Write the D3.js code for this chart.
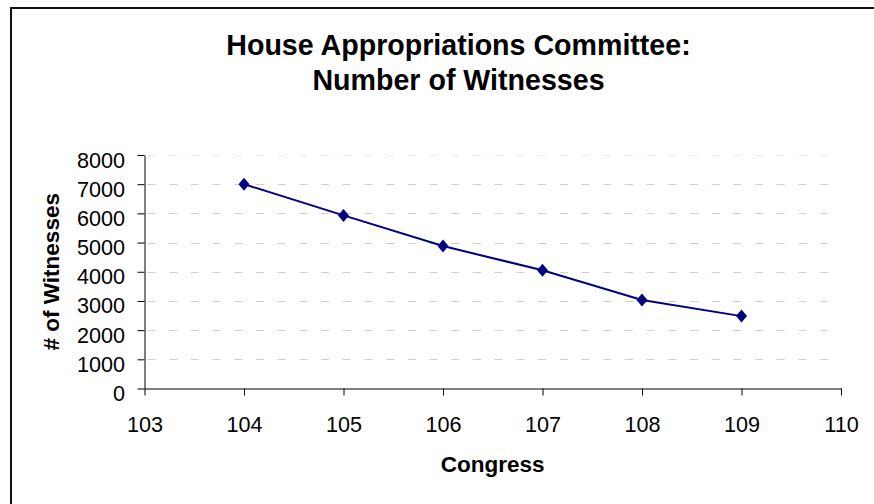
<html>
<head>
<script src="https://d3js.org/d3.v7.min.js"></script>
<style>
body { margin: 0; background: #fff; }
text { font-family: "Liberation Sans", Arial, sans-serif; fill: #000; }
</style>
</head>
<body>
<svg></svg>
<script>
var width = 874;
var height = 504;

// values
var congress = [104, 105, 106, 107, 108, 109];
var witnesses = [7000, 5930, 4880, 4050, 3030, 2480];
var xTicks = [103, 104, 105, 106, 107, 108, 109, 110];
var yTicks = [0, 1000, 2000, 3000, 4000, 5000, 6000, 7000, 8000];
var titleLines = ["House Appropriations Committee:", "Number of Witnesses"];

var plot = { left: 144.5, right: 841, top: 155, bottom: 388.5 };

var svg = d3.select("svg").attr("width", width).attr("height", height);

// outer frame (right and bottom edges fall off the picture)
svg.append("rect")
.attr("x", 11).attr("y", 8)
.attr("width", 900).attr("height", 600)
.style("fill", "none").style("stroke", "#111").style("stroke-width", 2);

var xScale = d3.scaleLinear().domain([103, 110]).range([plot.left, plot.right]);
var yScale = d3.scaleLinear().domain([0, 8000]).range([plot.bottom, plot.top]);

// dashed gridlines
svg.selectAll("line.grid").data(yTicks.slice(1)).enter().append("line")
.attr("class", "grid")
.attr("x1", plot.left + 3).attr("x2", plot.right)
.attr("y1", function (d) { return Math.round(yScale(d)) + 0.5; })
.attr("y2", function (d) { return Math.round(yScale(d)) + 0.5; })
.style("stroke", function (d) { return d == 8000 ? "#ececec" : "#cfcfcf"; })
.style("stroke-width", 1)
.style("stroke-dasharray", "8,13.7");

// axes
var xAxis = svg.append("g")
.attr("transform", "translate(0," + plot.bottom + ")")
.call(d3.axisBottom(xScale).tickValues(xTicks).tickFormat(d3.format("d")).tickSize(7).tickSizeOuter(0));
var yAxis = svg.append("g")
.attr("transform", "translate(" + plot.left + ",0)")
.call(d3.axisLeft(yScale).tickValues(yTicks).tickFormat(d3.format("d")).tickSize(7).tickSizeOuter(0));

[xAxis, yAxis].forEach(function (g) {
	g.select(".domain").style("stroke", "#000").style("stroke-width", 1);
	g.selectAll(".tick line").style("stroke", "#000");
	g.selectAll(".tick text").style("font-size", "21.6px").style("fill", "#000")
	.style("font-family", "\"Liberation Sans\", Arial, sans-serif");
});
xAxis.selectAll(".tick text").attr("y", 43).attr("dy", 0);
yAxis.selectAll(".tick text").attr("x", -19.5).attr("dy", 12);

// data line and diamond markers
var line = d3.line()
.x(function (d, i) { return xScale(congress[i]); })
.y(function (d) { return yScale(d); });

svg.append("path").datum(witnesses)
.attr("d", line)
.style("fill", "none").style("stroke", "#000080").style("stroke-width", 2);

svg.selectAll("path.marker").data(witnesses).enter().append("path")
.attr("class", "marker")
.attr("transform", function (d, i) { return "translate(" + xScale(congress[i]) + "," + yScale(d) + ")"; })
.attr("d", "M0,-6.5L5.5,0L0,6.5L-5.5,0Z")
.style("fill", "#000080");

// titles
svg.selectAll("text.title").data(titleLines).enter().append("text")
.attr("class", "title")
.attr("x", 458.5)
.attr("y", function (d, i) { return 55 + i * 35; })
.attr("text-anchor", "middle")
.style("font-size", "28.6px").style("font-weight", "bold")
.text(function (d) { return d; });

svg.append("text")
.attr("x", (plot.left + plot.right) / 2).attr("y", 472)
.attr("text-anchor", "middle")
.style("font-size", "22.5px").style("font-weight", "bold")
.text("Congress");

svg.append("text")
.attr("transform", "translate(59," + (plot.top + plot.bottom) / 2 + ") rotate(-90)")
.attr("text-anchor", "middle")
.style("font-size", "22.5px").style("font-weight", "bold")
.text("# of Witnesses");
</script>
</body>
</html>
